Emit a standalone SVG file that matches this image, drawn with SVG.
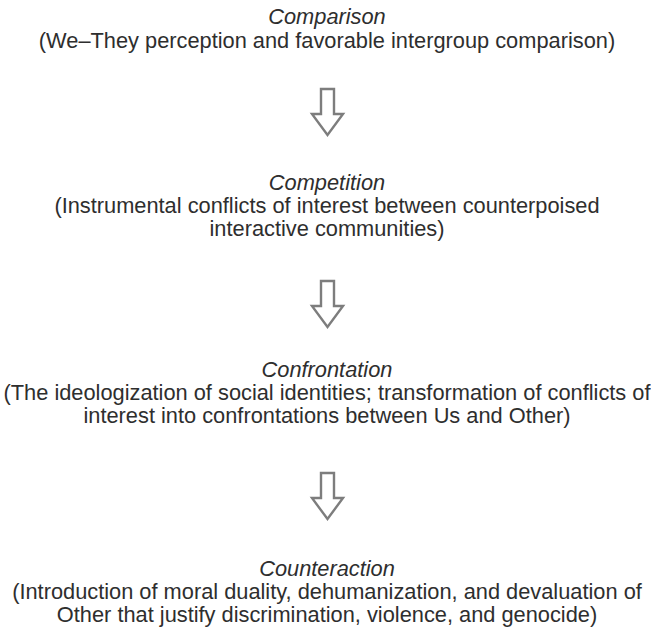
<svg xmlns="http://www.w3.org/2000/svg" width="651" height="631" viewBox="0 0 651 631">
  <defs>
    <style>
      text { font-family: "Liberation Sans", Arial, Helvetica, sans-serif; font-size: 21.8px; fill: #2e2e2e; text-anchor: middle; }
      .title { font-style: italic; }
      .arrow { fill: #ffffff; stroke: #7d7d7d; stroke-width: 2.4; stroke-linejoin: miter; }
    </style>
    <!-- hollow downward block arrow, origin at its top centre -->
    <polygon id="down-arrow" class="arrow" points="-6.5,0 6.5,0 6.5,25 15.5,25 0,46 -15.5,25 -6.5,25"/>
  </defs>
  <rect width="651" height="631" fill="#ffffff"/>

  <g id="comparison">
    <text class="title" x="327" y="24">Comparison</text>
    <text x="327" y="48">(We–They perception and favorable intergroup comparison)</text>
  </g>

  <g id="competition">
    <text class="title" x="327" y="190">Competition</text>
    <text x="327" y="213">(Instrumental conflicts of interest between counterpoised</text>
    <text x="327" y="236">interactive communities)</text>
  </g>

  <g id="confrontation">
    <text class="title" x="327" y="377">Confrontation</text>
    <text x="327" y="400">(The ideologization of social identities; transformation of conflicts of</text>
    <text x="327" y="423">interest into confrontations between Us and Other)</text>
  </g>

  <g id="counteraction">
    <text class="title" x="327" y="576">Counteraction</text>
    <text x="327" y="599">(Introduction of moral duality, dehumanization, and devaluation of</text>
    <text x="327" y="622">Other that justify discrimination, violence, and genocide)</text>
  </g>

  <g id="connectors">
    <use href="#down-arrow" x="327.5" y="89"/>
    <use href="#down-arrow" x="327.5" y="281"/>
    <use href="#down-arrow" x="327.5" y="473"/>
  </g>
</svg>
